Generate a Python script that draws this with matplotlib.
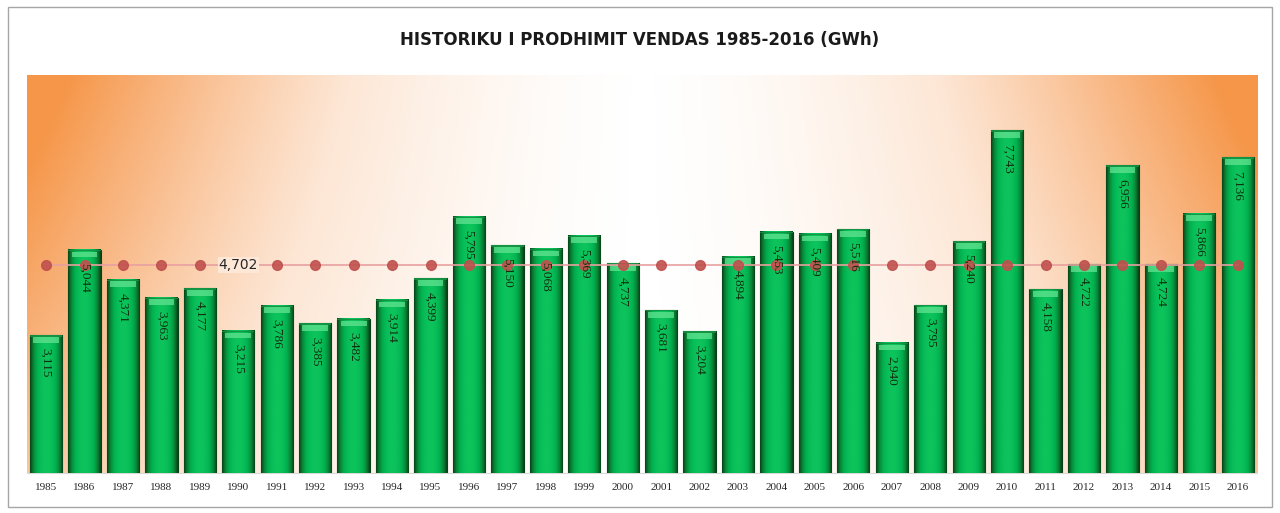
import numpy as np
import matplotlib
matplotlib.use("Agg")
import matplotlib.pyplot as plt
from matplotlib.colors import LinearSegmentedColormap
from matplotlib.patches import Rectangle

years = [str(y) for y in range(1985, 2017)]
production = [3115, 5044, 4371, 3963, 4177, 3215, 3786, 3385, 3482, 3914,
              4399, 5795, 5150, 5068, 5369, 4737, 3681, 3204, 4894, 5453,
              5409, 5516, 2940, 3795, 5240, 7743, 4158, 4722, 6956, 4724,
              5866, 7136]
average_value = 4702
average_label = "4,702"
title = "HISTORIKU I PRODHIMIT VENDAS 1985-2016 (GWh)"

fig = plt.figure(figsize=(12.8, 5.13), dpi=100)
fig.patch.set_facecolor("white")
# outer frame
fig.add_artist(Rectangle((0.006, 0.012), 0.988, 0.975, transform=fig.transFigure,
                         fill=False, edgecolor="#a6a6a6", lw=1.0))

ax = fig.add_axes([0.021, 0.078, 0.961, 0.776])
n = len(years)
x = np.arange(n)
ax.set_xlim(-0.5, n - 0.5)
ax.set_ylim(0, 9000)

# background gradient: orange at sides, white in the centre
gx = np.linspace(-1, 1, 400)
gy = np.linspace(0, 1, 200)
GX, GY = np.meshgrid(gx, gy)
t = np.clip(np.abs(GX) ** 1.7 * (0.6 + 0.4 * GY) + 0.12 * GY * np.abs(GX), 0, 1)
bg_cmap = LinearSegmentedColormap.from_list("bg", ["#ffffff", "#fde6d4", "#f9b987", "#f5913f"])
ax.imshow(t, cmap=bg_cmap, extent=[-0.5, n - 0.5, 0, 9000], aspect="auto",
          origin="lower", zorder=0, vmin=0, vmax=1.05)

bars = ax.bar(x, production, width=0.84, color="#00b050", edgecolor="#083f17",
              linewidth=0.8, zorder=2)

# cylinder shading on each bar
shade = np.linspace(-1, 1, 60)
prof = 1 - np.abs(shade) ** 2.0
bar_cmap = LinearSegmentedColormap.from_list("bar", ["#06451a", "#0c7f33", "#00b04f", "#0dc35c"])
for b in bars:
    bx, bw, bh = b.get_x(), b.get_width(), b.get_height()
    ax.imshow(prof[np.newaxis, :], cmap=bar_cmap, extent=[bx, bx + bw, 0, bh],
              aspect="auto", zorder=3, clip_path=b, clip_on=True)
    # top highlight
    ax.add_patch(Rectangle((bx + bw * 0.1, bh - 170), bw * 0.8, 130,
                           facecolor="#62e391", edgecolor="none", alpha=0.75, zorder=4))
    ax.add_patch(Rectangle((bx, bh - 30), bw, 30, facecolor="#178f42",
                           edgecolor="none", alpha=0.85, zorder=4))

# average line with markers
avg = [average_value] * n
ax.plot(x, avg, color="#e8a0a0", lw=1.2, zorder=5)
mx = [xi for xi in x if years[xi] != "1990"]
ax.plot(mx, [average_value] * len(mx), linestyle="none", marker="o",
        markersize=7, color="#c0504d", alpha=0.9, zorder=6)
ax.text(years.index("1990"), average_value, average_label, ha="center", va="center",
        fontsize=10, color="#262626", zorder=7,
        bbox=dict(facecolor="#fde8d8", edgecolor="none", pad=0.5))

# value labels (rotated, inside bars near the top)
for xi, v in zip(x, production):
    ax.text(xi, v - 300, f"{v:,}", rotation=270, ha="center", va="top",
            fontsize=9.5, family="Liberation Serif", color="#10300f", zorder=8)

ax.set_xticks(x)
ax.set_xticklabels(years, family="Liberation Serif", fontsize=8, color="#262626")
ax.tick_params(axis="x", length=0, pad=7)
ax.set_yticks([])
for s in ax.spines.values():
    s.set_visible(False)
ax.spines["bottom"].set_visible(True)
ax.spines["bottom"].set_color("#d9d9d9")

fig.text(0.5, 0.922, title, ha="center", va="center", fontsize=12, fontweight="bold",
         family=["Liberation Sans Narrow", "DejaVu Sans"], color="#1a1a1a")

fig.savefig("out.png", dpi=100)
